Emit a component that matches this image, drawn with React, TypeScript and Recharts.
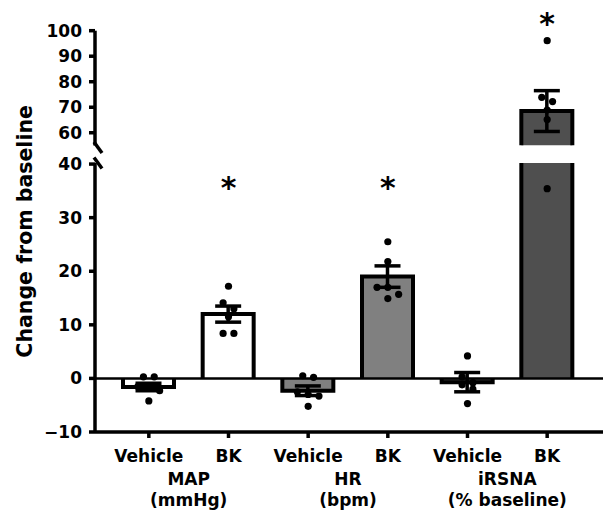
import { Bar, ComposedChart, ErrorBar, ReferenceDot, ReferenceLine, Scatter, XAxis, YAxis } from "recharts";

// values
const groups = ["MAP", "HR", "iRSNA"];
const units = ["(mmHg)", "(bpm)", "(% baseline)"];
const treatments = ["Vehicle", "BK"];

const means = [-1.6, 12.0, -2.3, 19.0, -0.7, 68.5];
const sems = [0.7, 1.5, 0.9, 2.0, 1.8, 8.0];

const mapVehicle = [0.3, 0.3, -1.5, -1.8, -2.3, -4.2];
const mapBk = [17.2, 14.1, 13.0, 11.5, 8.4, 8.4];
const hrVehicle = [0.5, 0.2, -2.5, -3.0, -3.3, -5.2];
const hrBk = [25.5, 21.8, 17.0, 17.0, 15.7, 14.9];
const irsnaVehicle = [4.2, 0.3, -0.8, -1.2, -2.0, -4.7];
const irsnaBk = [96.1, 73.9, 72.2, 68.9, 65.2, 35.4];

// asterisk heights above the BK bars
const sigHeights = [36, 36, 103.5];

const upperTicks = [60, 70, 80, 90, 100];
const lowerTicks = [-10, 0, 10, 20, 30, 40];
const upperDomain = [55, 100];
const lowerDomain = [-10, 40.2];

// layout
const W = 608;
const H = 514;
const AXIS_X = 95;
const PLOT_RIGHT = 603;
const UPPER_TOP = 30.7;
const UPPER_BOTTOM = 145.5;
const LOWER_TOP = 163;
const LOWER_BOTTOM = 432;
const PAD = { left: 14, right: 16 };
const BAND = (PLOT_RIGHT - AXIS_X - PAD.left - PAD.right) / 6;
const DOT_R = 3.6;
const fills = ["#ffffff", "#ffffff", "#808080", "#808080", "#4f4f4f", "#4f4f4f"];

const FONT = "DejaVu Sans";
const tickFont = { fontFamily: FONT, fontWeight: 700, fontSize: 17, fill: "#000" };
const axisStroke = { stroke: "#000", strokeWidth: 3.5 };

const cats = groups.flatMap((g) => treatments.map((t) => `${g} ${t}`));
const points = [mapVehicle, mapBk, hrVehicle, hrBk, irsnaVehicle, irsnaBk];
const sigCats = groups.map((g) => `${g} BK`);

const inRange = (v: number, d: number[]) => v >= d[0] && v <= d[1];

const lowerBars = cats.map((cat, i) => ({
  cat,
  mean: means[i],
  sem: inRange(means[i], lowerDomain) ? sems[i] : undefined,
}));
const upperBars = cats.map((cat, i) => ({
  cat,
  mean: means[i] >= upperDomain[0] ? means[i] : undefined,
  sem: means[i] >= upperDomain[0] ? sems[i] : undefined,
}));

// spread dots that would overlap sideways, like a dot plot
function swarm(values: number[], pxPerUnit: number) {
  const order = values.map((_, i) => i).sort((a, b) => values[b] - values[a]);
  const dx = values.map(() => 0);
  let row: number[] = [];
  const flush = () => {
    row.forEach((idx, k) => {
      dx[idx] = (k - (row.length - 1) / 2) * DOT_R * 3;
    });
    row = [];
  };
  order.forEach((idx) => {
    if (row.length && (values[row[0]] - values[idx]) * pxPerUnit >= DOT_R * 2) flush();
    row.push(idx);
  });
  flush();
  return dx;
}

const dotsFor = (domain: number[], pxPerUnit: number) =>
  cats.flatMap((cat, i) => {
    const vals = points[i].filter((v) => inRange(v, domain));
    const dx = swarm(vals, pxPerUnit);
    return vals.map((v, k) => ({ cat, v, dx: dx[k] }));
  });

const upperDots = dotsFor(upperDomain, (UPPER_BOTTOM - UPPER_TOP) / (upperDomain[1] - upperDomain[0]));
const lowerDots = dotsFor(lowerDomain, (LOWER_BOTTOM - LOWER_TOP) / (lowerDomain[1] - lowerDomain[0]));

const BarShape = (p: any) => {
  const { x, y, width, height, payload } = p;
  if (![x, y, width, height].every(Number.isFinite) || payload?.mean == null) return null;
  const top = Math.min(y, y + height);
  const bottom = Math.max(y, y + height);
  const up = payload.mean >= 0;
  const far = up ? top : bottom;
  const base = up ? bottom : top;
  const i = cats.indexOf(payload.cat);
  return (
    <g>
      <rect x={x} y={top} width={width} height={bottom - top} fill={fills[i]} />
      <path d={`M${x},${base}V${far}H${x + width}V${base}`} fill="none" stroke="#000" strokeWidth={4} />
    </g>
  );
};

const Dot = (p: any) => <circle cx={p.cx + (p.payload?.dx ?? 0)} cy={p.cy} r={DOT_R} fill="#000" />;

const Star = (p: any) => (
  <text x={p.cx} y={p.cy + 12} textAnchor="middle" fontFamily={FONT} fontWeight={700} fontSize={30} fill="#000">
    *
  </text>
);

const Slash = ({ cx, cy }: { cx: number; cy: number }) => (
  <line x1={cx - 4} y1={cy - 5.5} x2={cx + 4} y2={cy + 5.5} stroke="#000" strokeWidth={3.5} />
);

const XTick = ({ x, y, payload }: any) => {
  const i = cats.indexOf(payload.value);
  const g = Math.floor(i / 2);
  const t = { textAnchor: "middle" as const, ...tickFont };
  return (
    <g>
      <text x={x} y={y + 22} {...t}>
        {treatments[i % 2]}
      </text>
      {i % 2 === 0 && (
        <>
          <text x={x + BAND / 2} y={y + 45} {...t}>
            {groups[g]}
          </text>
          <text x={x + BAND / 2} y={y + 66} {...t}>
            {units[g]}
          </text>
        </>
      )}
    </g>
  );
};

const fmt = (v: number) => (v < 0 ? `\u2212${-v}` : `${v}`);

const App = () => {
  const titleY = (UPPER_TOP + LOWER_BOTTOM) / 2;
  return (
    <div style={{ position: "absolute", left: 0, top: 0, width: W, height: H, background: "#fff" }}>
      <div style={{ position: "absolute", left: 0, top: 0 }}>
        <ComposedChart
          width={W}
          height={H}
          data={upperBars}
          margin={{ top: UPPER_TOP, right: W - PLOT_RIGHT, bottom: H - UPPER_BOTTOM, left: 0 }}
        >
          <XAxis dataKey="cat" hide height={0} padding={PAD} allowDuplicatedCategory={false} />
          <YAxis
            width={AXIS_X}
            domain={upperDomain}
            allowDataOverflow
            ticks={upperTicks}
            interval={0}
            tick={tickFont}
            tickSize={6}
            tickMargin={7}
            axisLine={axisStroke}
            tickLine={axisStroke}
            label={{ content: () => <Slash cx={AXIS_X + 3} cy={UPPER_BOTTOM + 2} /> }}
          />
          <Bar dataKey="mean" barSize={51} shape={BarShape} isAnimationActive={false}>
            <ErrorBar dataKey="sem" width={13} strokeWidth={3.5} stroke="#000" direction="y" />
          </Bar>
          <Scatter data={upperDots} dataKey="v" shape={Dot} isAnimationActive={false} />
          {sigCats.map((c, i) =>
            sigHeights[i] >= upperDomain[0] ? (
              <ReferenceDot key={c} x={c} y={sigHeights[i]} ifOverflow="visible" shape={Star} />
            ) : null
          )}
        </ComposedChart>
      </div>
      <div style={{ position: "absolute", left: 0, top: 0 }}>
        <ComposedChart
          width={W}
          height={H}
          data={lowerBars}
          margin={{ top: LOWER_TOP, right: W - PLOT_RIGHT, bottom: 0, left: 0 }}
        >
          <XAxis
            dataKey="cat"
            height={H - LOWER_BOTTOM}
            padding={PAD}
            allowDuplicatedCategory={false}
            interval={0}
            tick={XTick}
            tickSize={6}
            axisLine={axisStroke}
            tickLine={axisStroke}
          />
          <YAxis
            width={AXIS_X}
            domain={lowerDomain}
            allowDataOverflow
            ticks={lowerTicks}
            interval={0}
            tick={tickFont}
            tickFormatter={fmt}
            tickSize={6}
            tickMargin={7}
            axisLine={axisStroke}
            tickLine={axisStroke}
            label={{
              content: () => (
                <g>
                  <Slash cx={AXIS_X + 3} cy={LOWER_TOP} />
                  <text
                    x={25}
                    y={titleY}
                    transform={`rotate(-90, 25, ${titleY})`}
                    textAnchor="middle"
                    dominantBaseline="central"
                    fontFamily={FONT}
                    fontWeight={700}
                    fontSize={20.5}
                    fill="#000"
                  >
                    Change from baseline
                  </text>
                </g>
              ),
            }}
          />
          <Bar dataKey="mean" barSize={51} shape={BarShape} isAnimationActive={false}>
            <ErrorBar dataKey="sem" width={13} strokeWidth={3.5} stroke="#000" direction="y" />
          </Bar>
          <ReferenceLine y={0} stroke="#000" strokeWidth={2.5} />
          <Scatter data={lowerDots} dataKey="v" shape={Dot} isAnimationActive={false} />
          {sigCats.map((c, i) =>
            inRange(sigHeights[i], lowerDomain) ? (
              <ReferenceDot key={c} x={c} y={sigHeights[i]} ifOverflow="visible" shape={Star} />
            ) : null
          )}
        </ComposedChart>
      </div>
    </div>
  );
};

export default App;
